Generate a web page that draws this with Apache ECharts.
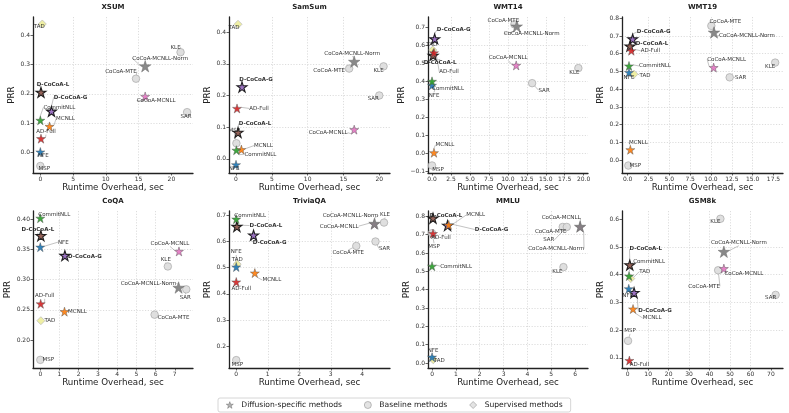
<!DOCTYPE html>
<html>
<head>
<meta charset="utf-8">
<script src="https://cdn.jsdelivr.net/npm/echarts@6/dist/echarts.min.js"></script>
<style>
html, body { margin: 0; padding: 0; background: #fff; }
#chart { width: 789px; height: 413px; }
</style>
</head>
<body>
<div id="chart"></div>
<script>
// method order is shared by every runtime / prr array below
const methods = ['D-CoCoA-G', 'D-CoCoA-L', 'NFE', 'MCNLL', 'CommitNLL', 'AD-Full',
  'CoCoA-MCNLL', 'CoCoA-MCNLL-Norm', 'MSP', 'CoCoA-MTE', 'KLE', 'SAR', 'TAD'];
const methodGroup = ['Diffusion-specific methods', 'Diffusion-specific methods', 'Diffusion-specific methods',
  'Diffusion-specific methods', 'Diffusion-specific methods', 'Diffusion-specific methods',
  'Diffusion-specific methods', 'Diffusion-specific methods',
  'Baseline methods', 'Baseline methods', 'Baseline methods', 'Baseline methods', 'Supervised methods'];
const groupNames = ['Baseline methods', 'Supervised methods', 'Diffusion-specific methods'];
const legendNames = ['Diffusion-specific methods', 'Baseline methods', 'Supervised methods'];

const xsumRuntime = [1.7, 0.1, 0.0, 1.4, 0.0, 0.1, 16.0, 16.0, 0.0, 14.6, 21.4, 22.4, 0.3];
const xsumPrr = [0.140, 0.205, 0.000, 0.088, 0.109, 0.046, 0.191, 0.295, -0.048, 0.252, 0.343, 0.137, 0.440];
const samsumRuntime = [0.84, 0.28, 0.0, 0.75, 0.05, 0.14, 16.5, 16.5, 0.05, 15.8, 20.6, 20.0, 0.28];
const samsumPrr = [0.227, 0.083, -0.019, 0.029, 0.027, 0.159, 0.092, 0.307, 0.049, 0.285, 0.292, 0.200, 0.425];
const wmt14Runtime = [0.35, 0.15, 0.0, 0.26, 0.0, 0.26, 11.1, 11.17, 0.0, 10.86, 19.3, 13.2, 0.1];
const wmt14Prr = [0.637, 0.545, 0.378, 0.002, 0.400, 0.559, 0.489, 0.707, -0.069, 0.718, 0.474, 0.390, 0.575];
const wmt19Runtime = [0.6, 0.28, 0.16, 0.32, 0.16, 0.44, 10.32, 10.36, 0.08, 10.04, 17.7, 12.24, 0.76];
const wmt19Prr = [0.683, 0.643, 0.494, 0.059, 0.531, 0.617, 0.522, 0.720, -0.030, 0.757, 0.550, 0.467, 0.485];
const coqaRuntime = [1.28, 0.03, 0.0, 1.26, 0.0, 0.02, 7.22, 7.2, 0.0, 5.95, 6.64, 7.6, 0.03];
const coqaPrr = [0.340, 0.373, 0.354, 0.247, 0.402, 0.260, 0.347, 0.287, 0.167, 0.242, 0.322, 0.284, 0.232];
const triviaRuntime = [0.55, 0.02, 0.0, 0.59, 0.0, 0.0, 4.38, 4.39, 0.0, 3.81, 4.69, 4.42, 0.03];
const triviaPrr = [0.623, 0.656, 0.502, 0.479, 0.684, 0.445, 0.665, 0.667, 0.148, 0.582, 0.671, 0.599, 0.513];
const mmluRuntime = [0.65, 0.04, 0.0, 0.7, 0.0, 0.04, 6.21, 6.21, 0.0, 5.48, 5.51, 5.65, 0.05];
const mmluPrr = [0.750, 0.790, 0.032, 0.753, 0.528, 0.706, 0.742, 0.744, 0.708, 0.742, 0.523, 0.742, 0.018];
const gsmRuntime = [3.1, 1.0, 0.5, 2.6, 0.65, 0.8, 47.0, 47.0, 0.16, 44.2, 45.3, 72.3, 1.5];
const gsmPrr = [0.335, 0.435, 0.349, 0.276, 0.395, 0.090, 0.422, 0.483, 0.161, 0.416, 0.602, 0.327, 0.386];

// tick labels
const xsumXTicks = ['0', '5', '10', '15', '20'];
const xsumYTicks = ['0.0', '0.1', '0.2', '0.3', '0.4'];
const samsumXTicks = ['0', '5', '10', '15', '20'];
const samsumYTicks = ['0.0', '0.1', '0.2', '0.3', '0.4'];
const wmt14XTicks = ['0.0', '2.5', '5.0', '7.5', '10.0', '12.5', '15.0', '17.5', '20.0'];
const wmt14YTicks = ['−0.1', '0.0', '0.1', '0.2', '0.3', '0.4', '0.5', '0.6', '0.7'];
const wmt19XTicks = ['0.0', '2.5', '5.0', '7.5', '10.0', '12.5', '15.0', '17.5'];
const wmt19YTicks = ['0.0', '0.1', '0.2', '0.3', '0.4', '0.5', '0.6', '0.7', '0.8'];
const coqaXTicks = ['0', '1', '2', '3', '4', '5', '6', '7'];
const coqaYTicks = ['0.20', '0.25', '0.30', '0.35', '0.40'];
const triviaXTicks = ['0', '1', '2', '3', '4'];
const triviaYTicks = ['0.2', '0.3', '0.4', '0.5', '0.6', '0.7'];
const mmluXTicks = ['0', '1', '2', '3', '4', '5', '6'];
const mmluYTicks = ['0.0', '0.1', '0.2', '0.3', '0.4', '0.5', '0.6', '0.7', '0.8'];
const gsmXTicks = ['0', '10', '20', '30', '40', '50', '60', '70'];
const gsmYTicks = ['0.1', '0.2', '0.3', '0.4', '0.5', '0.6'];

const panels = [
  { title: 'XSUM', x: xsumRuntime, y: xsumPrr, xt: xsumXTicks, yt: xsumYTicks },
  { title: 'SamSum', x: samsumRuntime, y: samsumPrr, xt: samsumXTicks, yt: samsumYTicks },
  { title: 'WMT14', x: wmt14Runtime, y: wmt14Prr, xt: wmt14XTicks, yt: wmt14YTicks },
  { title: 'WMT19', x: wmt19Runtime, y: wmt19Prr, xt: wmt19XTicks, yt: wmt19YTicks },
  { title: 'CoQA', x: coqaRuntime, y: coqaPrr, xt: coqaXTicks, yt: coqaYTicks },
  { title: 'TriviaQA', x: triviaRuntime, y: triviaPrr, xt: triviaXTicks, yt: triviaYTicks },
  { title: 'MMLU', x: mmluRuntime, y: mmluPrr, xt: mmluXTicks, yt: mmluYTicks },
  { title: 'GSM8k', x: gsmRuntime, y: gsmPrr, xt: gsmXTicks, yt: gsmYTicks }
];

// layout: axis extents (matplotlib margins) and label offsets in px, method order
const axisExtent = [
  { x: [-1.12, 23.3], y: [-0.072, 0.464] },
  { x: [-0.98, 21.5], y: [-0.045, 0.448] },
  { x: [-0.53, 20.57], y: [-0.111, 0.759] },
  { x: [-0.68, 18.64], y: [-0.072, 0.807] },
  { x: [-0.38, 7.95], y: [0.1535, 0.414] },
  { x: [-0.23, 4.88], y: [0.118, 0.715] },
  { x: [-0.17, 6.54], y: [-0.027, 0.829] },
  { x: [-2.8, 75.9], y: [0.063, 0.63] }
];
const labelShift = [
  [[19, -14], [12, -8], [3, 4], [16, -8], [19, -13], [5, -7], [11, 4], [15, -8], [4, 3], [-15, -7], [-5, -5], [-1, 4], [-3, 3]],
  [[14, -7], [17, -9], [-2, 4], [22, -4], [24, 4], [22, 0], [-26, 3], [-2, -8], [-2, -13], [-20, 2], [-5, 4], [-6, 3], [-4, 3]],
  [[19, -9], [7, 7], [2, 10], [11, -8], [16, 7], [15, 19], [-8, -8], [15, 7], [6, 4], [-11, -4], [-4, 4], [12, 7], [-1, -5]],
  [[21, -7], [22, -3], [0, 5], [8, -7], [26, 0], [19, 0], [13, -8], [33, 3], [7, 0], [14, -4], [-5, 4], [11, 0], [11, 1]],
  [[20, 1], [-3, -6], [23, -5], [13, 0], [14, -4], [4, -8], [-9, -8], [-30, -4], [8, 0], [19, 3], [-2, -7], [-1, 8], [9, 0]],
  [[16, 7], [29, -1], [0, -15], [17, 7], [14, -4], [5, 7], [-35, 2], [-24, -8], [1, 4], [-8, 7], [1, -8], [9, 7], [0, -5]],
  [[44, 4], [13, -3], [1, -7], [27, -10], [24, 0], [8, 4], [-19, -9], [-24, 22], [2, 13], [-12, 5], [-6, 4], [-18, 13], [6, 1]],
  [[21, 18], [16, -16], [-1, 7], [19, 9], [20, -14], [10, 4], [20, 5], [15, -9], [2, -10], [-14, 16], [-5, 3], [-5, 3], [14, -7]]
];
const gridLeft = [33, 229, 428, 622];
const gridWidth = [160, 161, 160, 161];
const gridTop = [17, 211];
const gridHeight = [156, 157];

const starPath = 'path://M0,-100L22.45,-30.9L95.1,-30.9L36.3,11.8L58.8,80.9L0,38.2L-58.8,80.9L-36.3,11.8L-95.1,-30.9L-22.45,-30.9Z';
const methodStyle = {
  'D-CoCoA-G': { color: '#9467bd', border: '#111', bw: 1.1, size: 10, bold: true },
  'D-CoCoA-L': { color: '#8c564b', border: '#111', bw: 1.1, size: 10, bold: true },
  'NFE': { color: '#1f77b4', border: '#555', bw: 0.5, size: 9 },
  'MCNLL': { color: '#ff7f0e', border: '#555', bw: 0.5, size: 9 },
  'CommitNLL': { color: '#2ca02c', border: '#555', bw: 0.5, size: 9 },
  'AD-Full': { color: '#d62728', border: '#555', bw: 0.5, size: 9 },
  'CoCoA-MCNLL': { color: '#e377c2', border: '#555', bw: 0.5, size: 9 },
  'CoCoA-MCNLL-Norm': { color: '#7f7f7f', border: '#666', bw: 0.5, size: 11.5 },
  'MSP': { color: '#dcdcdc', border: '#aaa', bw: 0.8, size: 7.5 },
  'CoCoA-MTE': { color: '#dcdcdc', border: '#aaa', bw: 0.8, size: 7.5 },
  'KLE': { color: '#dcdcdc', border: '#aaa', bw: 0.8, size: 7.5 },
  'SAR': { color: '#dcdcdc', border: '#aaa', bw: 0.8, size: 7.5 },
  'TAD': { color: '#eeee9c', border: '#bbb', bw: 0.8, size: 8 }
};
const groupSymbol = {
  'Diffusion-specific methods': starPath,
  'Baseline methods': 'circle',
  'Supervised methods': 'diamond'
};
const groupLegendStyle = {
  'Diffusion-specific methods': { color: '#a0a0a0', borderColor: '#666', borderWidth: 0.6 },
  'Baseline methods': { color: '#dcdcdc', borderColor: '#999', borderWidth: 0.8 },
  'Supervised methods': { color: '#dcdcdc', borderColor: '#999', borderWidth: 0.8 }
};
const legendIconSize = {
  'Diffusion-specific methods': 7,
  'Baseline methods': 8,
  'Supervised methods': 9
};

const FONT = 'DejaVu Sans';
const toNum = s => Number(s.replace('−', '-'));
const tickFormatter = labels => v => {
  const hit = labels.find(s => Math.abs(toNum(s) - v) < 1e-9);
  return hit === undefined ? '' : hit;
};

const grids = [], xAxes = [], yAxes = [], titles = [], series = [], shiftBySeries = [];

panels.forEach((p, i) => {
  const col = i % 4, row = Math.floor(i / 4);
  grids.push({ left: gridLeft[col], top: gridTop[row], width: gridWidth[col], height: gridHeight[row] });
  titles.push({
    text: p.title, left: gridLeft[col] + gridWidth[col] / 2, top: gridTop[row] - 13, textAlign: 'center', padding: 0,
    textStyle: { fontFamily: FONT, fontSize: 7, fontWeight: 'bold', color: '#222' }
  });
  const xv = p.xt.map(toNum), yv = p.yt.map(toNum);
  const axisCommon = (vals, labels) => ({
    type: 'value', gridIndex: i,
    axisLine: { show: true, onZero: false, lineStyle: { color: '#222', width: 1.3 } },
    axisTick: { show: true, length: 2.5, customValues: vals, lineStyle: { color: '#222', width: 0.7 } },
    axisLabel: { customValues: vals, formatter: tickFormatter(labels), fontFamily: FONT, fontSize: 6, color: '#333', margin: 3 },
    splitLine: { show: true, showMinLine: false, showMaxLine: false, lineStyle: { type: [1.2, 1.6], color: '#cfcfcf', width: 0.7 } },
    nameLocation: 'middle',
    nameTextStyle: { fontFamily: FONT, fontSize: 8.7, color: '#222' }
  });
  xAxes.push(Object.assign(axisCommon(xv, p.xt), {
    min: axisExtent[i].x[0], max: axisExtent[i].x[1], name: 'Runtime Overhead, sec', nameGap: 10
  }));
  yAxes.push(Object.assign(axisCommon(yv, p.yt), {
    min: axisExtent[i].y[0], max: axisExtent[i].y[1], name: 'PRR', nameGap: 15
  }));

  groupNames.forEach(g => {
    const idx = methods.map((m, k) => k).filter(k => methodGroup[k] === g);
    const data = idx.map(k => {
      const st = methodStyle[methods[k]];
      return {
        name: methods[k],
        value: [p.x[k], p.y[k]],
        symbolSize: st.size,
        itemStyle: { color: st.color, borderColor: st.border, borderWidth: st.bw, opacity: 0.92 },
        label: { fontWeight: st.bold ? 'bold' : 'normal' }
      };
    });
    shiftBySeries.push(idx.map(k => labelShift[i][k]));
    series.push({
      type: 'scatter', name: g, xAxisIndex: i, yAxisIndex: i,
      symbol: groupSymbol[g],
      symbolSize: legendIconSize[g],
      itemStyle: groupLegendStyle[g],
      data: data,
      label: {
        show: true, position: 'inside', formatter: '{b}',
        fontFamily: FONT, fontSize: 5.5, color: '#222'
      },
      labelLine: { show: true, lineStyle: { color: '#9a9a9a', width: 0.6 } },
      labelLayout: function (lp) {
        const s = shiftBySeries[lp.seriesIndex][lp.dataIndex];
        return {
          x: lp.rect.x + lp.rect.width / 2 + s[0],
          y: lp.rect.y + lp.rect.height / 2 + s[1],
          align: 'center', verticalAlign: 'middle'
        };
      },
      emphasis: { disabled: true },
      animation: false
    });
  });
});

const chart = echarts.init(document.getElementById('chart'), null, { renderer: 'canvas' });
chart.setOption({
  animation: false,
  backgroundColor: '#fff',
  title: titles,
  grid: grids,
  xAxis: xAxes,
  yAxis: yAxes,
  legend: {
    data: legendNames.map(n => ({
      name: n,
      icon: groupSymbol[n],
      itemStyle: groupLegendStyle[n]
    })),
    left: 218, top: 398,
    itemWidth: 7, itemHeight: 7, itemGap: 22,
    padding: [3, 8],
    borderColor: '#ccc', borderWidth: 0.8, borderRadius: 2,
    textStyle: { fontFamily: FONT, fontSize: 7.6, color: '#222', padding: [0, 0, 0, 3] }
  },
  series: series
});
</script>
</body>
</html>
